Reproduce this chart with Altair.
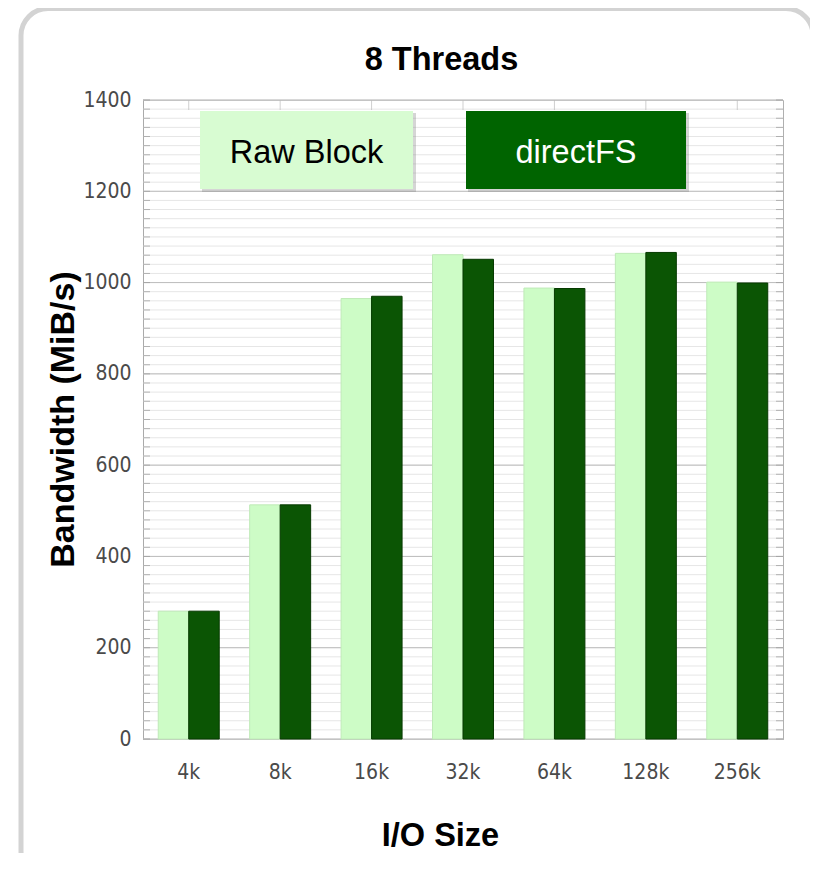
import altair as alt
import pandas as pd

# ---- data ----
sizes = ["4k", "8k", "16k", "32k", "64k", "128k", "256k"]
series_names = ["Raw Block", "directFS"]
raw_block = [280, 513, 965, 1061, 988, 1064, 1001]
direct_fs = [280, 513, 970, 1051, 987, 1066, 999]
y_labels = [0, 200, 400, 600, 800, 1000, 1200, 1400]
y_minor = list(range(0, 1401, 20))
chart_title = "8 Threads"
x_title = "I/O Size"
y_title = "Bandwidth (MiB/s)"

bar_colors = ["#cdfcc6", "#0b5504"]
bar_strokes = ["#bfeab8", "#063a00"]
legend_colors = ["#d8fcd2", "#006400"]

rows = []
for s, v in zip(sizes, raw_block):
    rows.append({"size": s, "series": series_names[0], "value": v})
for s, v in zip(sizes, direct_fs):
    rows.append({"size": s, "series": series_names[1], "value": v})
df = pd.DataFrame(rows)

W, H = 640, 639
FONT = "Liberation Sans"
NARROW = "Liberation Sans Narrow, DejaVu Sans Condensed, Liberation Sans"

xscale = alt.Scale(domain=sizes, paddingInner=0.333, paddingOuter=0.1667)
yscale = alt.Scale(domain=[0, 1400], nice=False)

x_axis = alt.Axis(title=x_title, labelFont=NARROW, labelFontSize=21,
                  labelColor="#4a4a4a", tickSize=0, labelPadding=22,
                  domainColor="#aaa", labelAngle=0,
                  titleFont=FONT, titleFontSize=32.5, titleFontWeight="bold",
                  titleColor="#000", titleX=297, titleY=106,
                  titleAlign="center", titleBaseline="alphabetic")
y_axis = alt.Axis(title=y_title, values=y_labels, labelOverlap=False, format="d",
                  labelFont=NARROW, labelFontSize=21, labelColor="#4a4a4a",
                  labelPadding=12, tickSize=0, domainColor="#aaa",
                  grid=False,
                  titleFont=FONT, titleFontSize=34, titleFontWeight="bold",
                  titleColor="#000", titleX=-80, titleY=319,
                  titleAlign="center", titleBaseline="middle", titleAngle=270)

minor_df = pd.DataFrame({"value": y_minor})
major_df = pd.DataFrame({"value": y_labels})

minor_grid = alt.Chart(minor_df).mark_rule(color="#e6e6e6", strokeWidth=1).encode(
    y=alt.Y("value:Q", scale=yscale, axis=y_axis))
major_grid = alt.Chart(major_df).mark_rule(color="#bdbdbd", strokeWidth=1).encode(
    y=alt.Y("value:Q", scale=yscale, axis=y_axis))

bars = alt.Chart(df).mark_bar(strokeWidth=1).encode(
    x=alt.X("size:N", sort=sizes, scale=xscale, axis=x_axis),
    xOffset=alt.XOffset("series:N", sort=series_names),
    y=alt.Y("value:Q", scale=yscale, axis=y_axis),
    color=alt.Color("series:N", scale=alt.Scale(domain=series_names, range=bar_colors), legend=None),
    stroke=alt.Stroke("series:N", scale=alt.Scale(domain=series_names, range=bar_strokes), legend=None),
)

left_ticks = alt.Chart(minor_df).mark_tick(orient="horizontal", color="#999", size=7, thickness=1).encode(
    y=alt.Y("value:Q", scale=yscale, axis=y_axis), x=alt.value(3.5))
right_ticks = alt.Chart(minor_df).mark_tick(orient="horizontal", color="#999", size=7, thickness=1).encode(
    y=alt.Y("value:Q", scale=yscale, axis=y_axis), x=alt.value(W - 3.5))
top_ticks = alt.Chart(pd.DataFrame({"size": sizes})).mark_tick(orient="vertical", color="#bbb", size=10, thickness=1).encode(
    x=alt.X("size:N", sort=sizes, scale=xscale, axis=x_axis), y=alt.value(5))

one = pd.DataFrame({"k": [0]})

card = alt.Chart(one).mark_rect(filled=False, color="#d3d3d3", strokeWidth=5, cornerRadius=27).encode(
    x=alt.value(-122), x2=alt.value(670), y=alt.value(-91.5), y2=alt.value(778))

def legend_box(x0, x1, fill, label, text_color):
    shadow = alt.Chart(one).mark_rect(color="#888", opacity=0.35).encode(
        x=alt.value(x0 + 2), x2=alt.value(x1 + 3), y=alt.value(13), y2=alt.value(92))
    box = alt.Chart(one).mark_rect(color=fill).encode(
        x=alt.value(x0), x2=alt.value(x1), y=alt.value(11), y2=alt.value(89))
    txt = alt.Chart(one).mark_text(font=FONT, fontSize=32.5, color=text_color,
                                   align="center", baseline="alphabetic").encode(
        x=alt.value((x0 + x1) / 2), y=alt.value(63), text=alt.value(label))
    return [shadow, box, txt]

legend_layers = legend_box(57, 270, legend_colors[0], series_names[0], "#000") + \
    legend_box(323, 543, legend_colors[1], series_names[1], "#fff")

title_mark = alt.Chart(one).mark_text(font=FONT, fontSize=32.5, fontWeight="bold", color="#000",
                                      align="center", baseline="alphabetic").encode(
    x=alt.value(298.5), y=alt.value(-30), text=alt.value(chart_title))

chart = alt.layer(card, minor_grid, major_grid, bars, left_ticks, right_ticks, top_ticks,
                  *legend_layers, title_mark).properties(
    width=W, height=H,
    autosize=alt.AutoSizeParams(type="none"),
    padding={"left": 135, "top": 92, "right": 27, "bottom": 114},
).configure_view(stroke="#b0b0b0", strokeWidth=1)

chart.save("out.html", embed_options={"renderer": "svg", "actions": False})
